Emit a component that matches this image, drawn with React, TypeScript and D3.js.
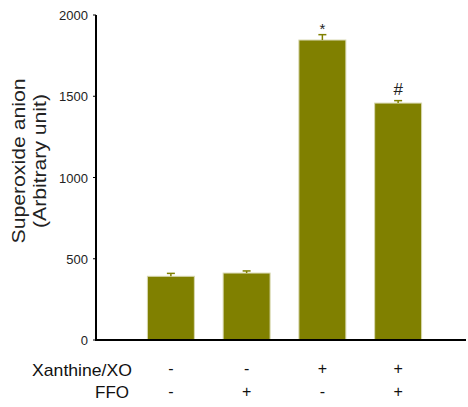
import React from "react";
import * as d3 from "d3";

const groups = ["G1", "G2", "G3", "G4"];
const values = [392, 412, 1846, 1458];
const errors = [18, 13, 33, 15];
const marks = ["", "", "*", "#"];
const xanthineRow = ["-", "-", "+", "+"];
const ffoRow = ["-", "+", "-", "+"];
const yTicks = [0, 500, 1000, 1500, 2000];

export default function App() {
  const W = 468, H = 407;
  const x0 = 96, x1 = 466;
  const y = d3.scaleLinear().domain([0, 2000]).range([340, 15]);
  const x = d3.scaleBand().domain(groups).range([133, 436]).paddingInner(0.38).paddingOuter(0.19);
  const font = "Liberation Sans, Arial, sans-serif";
  const bw = x.bandwidth();
  return (
    <svg width={W} height={H} style={{ position: "absolute", left: 0, top: 0 }} fontFamily={font}>
      {groups.map((g, i) => {
        const cx = (x(g) as number) + bw / 2;
        return (
          <g key={g}>
            <rect x={x(g)} y={y(values[i])} width={bw} height={340 - y(values[i])} fill="#808000" stroke="#d8d8b0" strokeWidth={1} />
            <line x1={cx} x2={cx} y1={y(values[i])} y2={y(values[i] + errors[i])} stroke="#808000" strokeWidth={1.5} />
            <line x1={cx - 4} x2={cx + 4} y1={y(values[i] + errors[i])} y2={y(values[i] + errors[i])} stroke="#808000" strokeWidth={1.5} />
            {marks[i] && (
              <text x={cx} y={y(values[i] + errors[i]) - (marks[i] === "*" ? 1 : 6)} textAnchor="middle" fontSize={marks[i] === "*" ? 15 : 17} fill="#222">{marks[i]}</text>
            )}
            <text x={cx} y={374} textAnchor="middle" fontSize={16} fill="#111">{xanthineRow[i]}</text>
            <text x={cx} y={397} textAnchor="middle" fontSize={16} fill="#111">{ffoRow[i]}</text>
          </g>
        );
      })}
      <line x1={x0} x2={x0} y1={y(2000)} y2={341} stroke="#000" strokeWidth={2} />
      <line x1={x0 - 1} x2={x1} y1={340} y2={340} stroke="#000" strokeWidth={2} />
      {yTicks.map((t) => (
        <g key={t}>
          <line x1={x0 - 3} x2={x0} y1={y(t)} y2={y(t)} stroke="#000" strokeWidth={1} />
          <text x={88} y={y(t) + 5} textAnchor="end" fontSize={13} fill="#222">{t}</text>
        </g>
      ))}
      <g transform="translate(25,161) rotate(-90)">
        <text x={0} y={0} textAnchor="middle" fontSize={17.5} fill="#222" textLength={165} lengthAdjust="spacingAndGlyphs">Superoxide anion</text>
        <text x={0} y={21} textAnchor="middle" fontSize={17.5} fill="#222" textLength={134} lengthAdjust="spacingAndGlyphs">(Arbitrary unit)</text>
      </g>
      <text x={132} y={376} textAnchor="end" fontSize={17} fill="#111" textLength={100} lengthAdjust="spacingAndGlyphs">Xanthine/XO</text>
      <text x={129} y={398} textAnchor="end" fontSize={17} fill="#111">FFO</text>
    </svg>
  );
}
